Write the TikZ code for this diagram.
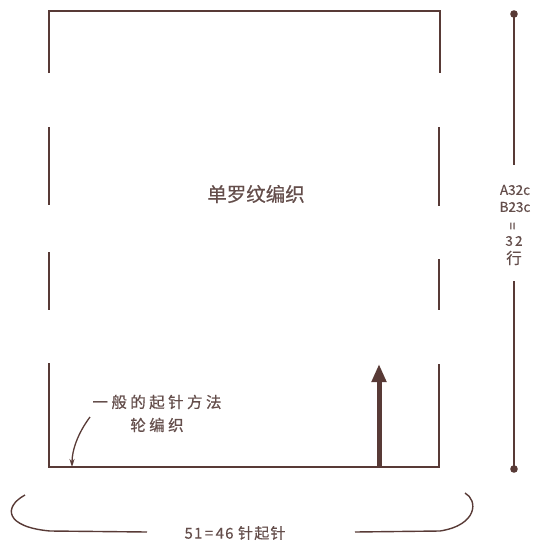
\documentclass[tikz,border=0pt]{standalone}
\usepackage{fontspec}
\setmainfont{Noto Sans CJK SC}[FakeBold=0.5]
\newfontfamily\cjkspaced{Noto Sans CJK SC}[LetterSpace=22,FakeBold=0.5]
\newfontfamily\cjkbottom{Noto Sans CJK SC}[LetterSpace=8,FakeBold=0.5]
\usetikzlibrary{arrows.meta}
\definecolor{ink}{RGB}{88,58,54}
\definecolor{txt}{RGB}{100,78,75}
\tikzset{
  x=1pt, y=-1pt,
  outline/.style={draw=ink, line width=2pt},
  dimline/.style={draw=ink, line width=1.5pt},
  label/.style={text=txt, inner sep=0pt, font=\fontsize{15.5}{17}\cjkspaced},
  title/.style={text=txt, inner sep=0pt, font=\fontsize{19.5}{21}\selectfont},
  side/.style={text=txt, inner sep=0pt, font=\fontsize{13.5}{15}\selectfont},
}
\begin{document}
\begin{tikzpicture}
\useasboundingbox (0,0) rectangle (538,542);
% outline with gaps
\draw[outline] (49,73) -- (49,11) -- (440,11) -- (440,73);
\draw[outline] (49,127) -- (49,205);
\draw[outline] (49,252) -- (49,310);
\draw[outline] (49,363) -- (49,467) -- (439,467) -- (439,364);
\draw[outline] (439,259) -- (439,310);
\draw[outline] (439,127) -- (439,206);
% title
\node[title] (t) at (256,194) {单罗纹编织};
% upward arrow
\coordinate (ab) at (379,467);
\coordinate (at) at (379,364);
\draw[ink, line width=5pt, -{Triangle[length=18pt,width=14pt]}] (ab) -- (at);
% cast-on label
\node[label] (l1) at (157,402) {一般的起针方法};
\node[label] (l2) at (157,425) {轮编织};
\coordinate (cs) at (90,417);
\coordinate (ce) at (72,467);
\draw[ink, line width=1.3pt, -{Stealth[length=8pt,width=5pt]}] (cs) .. controls (78,433) and (72,450) .. (ce);
% vertical dimension
\coordinate (d1) at (514,14);
\coordinate (d2) at (514,165);
\coordinate (d3) at (514,281);
\coordinate (d4) at (514,469);
\draw[dimline] (d1) -- (d2);
\draw[dimline] (d3) -- (d4);
\fill[ink] (d1) circle (3.8pt);
\fill[ink] (d4) circle (3.8pt);
\node[side] (s1) at (515,190) {A32c};
\node[side] (s2) at (515,207) {B23c};
\node[side, rotate=90] (s3) at (514,226) {=};
\node[side] (s4) at (514,241) {3\,2};
\node[side, font=\fontsize{15.5}{17}\selectfont] (s5) at (514,258) {行};
% bottom brace
\coordinate (b1) at (25,495);
\coordinate (b2) at (50,531);
\coordinate (b3) at (147,532);
\coordinate (b4) at (355,532);
\coordinate (b5) at (440,531);
\coordinate (b6) at (465,493);
\draw[dimline, line width=1.4pt] (b1) .. controls (3,507) and (5,527) .. (b2) -- (b3);
\draw[dimline, line width=1.4pt] (b4) -- (b5) .. controls (478,525) and (478,500) .. (b6);
\node[text=txt, inner sep=0pt, font=\fontsize{15}{17}\cjkbottom] (bt) at (235,533) {51\,=\,46 针起针};
\end{tikzpicture}
\end{document}
